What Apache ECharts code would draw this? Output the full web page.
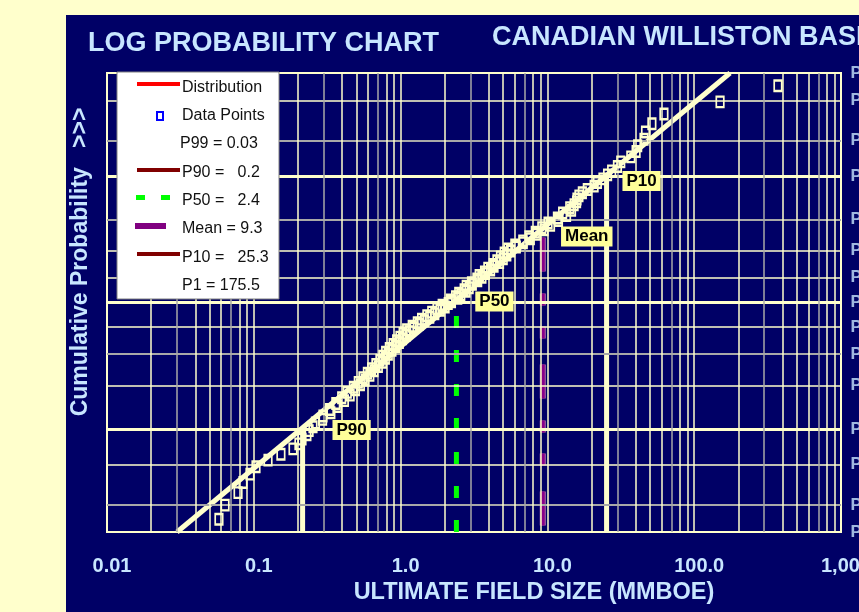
<!DOCTYPE html>
<html>
<head>
<meta charset="utf-8">
<title>Log Probability Chart</title>
<script src="https://cdn.jsdelivr.net/npm/echarts@6.0.0/dist/echarts.min.js"></script>
<style>
  html, body { margin: 0; padding: 0; background: #ffffcc; }
  #panel { position: absolute; left: 66px; top: 15px; width: 793px; height: 597px; background: #000066; }
  #chart { position: absolute; left: 0; top: 0; width: 859px; height: 612px; }
</style>
</head>
<body>
<div id="panel"></div>
<div id="chart"></div>
<script>
// x axis decade labels
const xTickLabels = ['0.01', '0.1', '1.0', '10.0', '100.0', '1,000'];

// probability grid (exceedance %), labelled on the right
const probLevels = [1, 2, 5, 10, 20, 30, 40, 50, 60, 70, 80, 90, 95, 98, 99];
const probLabels = ['P1', 'P2', 'P5', 'P10', 'P20', 'P30', 'P40', 'P50', 'P60', 'P70', 'P80', 'P90', 'P95', 'P98', 'P99'];

// summary statistics (MMBOE)
const p99Value = 0.03;
const p90Value = 0.215;
const p50Value = 2.4;
const meanValue = 9.3;
const p10Value = 25.3;
const p1Value = 175.5;

// fitted lognormal distribution end points
const distSizes = [p99Value, p1Value];
const distProbs = [99, 1];

// field data points: size (MMBOE) and plotting position (exceedance %)
const pointSizes = [
  372, 150, 62.2, 51.5, 46.6, 45.5, 41.2, 40.2, 37.0, 31.6,
  30.0, 27.4, 25.7, 23.9, 21.9, 20.8, 18.7, 17.3, 16.4, 15.9,
  15.8, 15.2, 14.2, 14.6, 12.7, 13.5, 11.7, 11.9, 10.1, 10.5,
  9.16, 9.48, 8.27, 8.43, 7.48, 7.65, 6.80, 6.85, 6.00, 6.14,
  5.39, 5.61, 5.08, 5.29, 4.79, 5.00, 4.53, 4.72, 4.28, 4.33,
  3.93, 4.10, 3.73, 3.78, 3.43, 3.58, 3.31, 3.35, 3.04, 3.08,
  2.80, 2.93, 2.71, 2.79, 2.49, 2.57, 2.37, 2.45, 2.19, 2.22,
  2.11, 1.92, 2.01, 1.77, 1.86, 1.63, 1.71, 1.51, 1.58, 1.39,
  1.45, 1.30, 1.34, 1.20, 1.23, 1.10, 1.15, 1.04, 1.09, 0.99,
  1.03, 0.94, 0.98, 0.89, 0.925, 0.838, 0.873, 0.791, 0.824, 0.757,
  0.787, 0.723, 0.752, 0.679, 0.705, 0.635, 0.659, 0.594, 0.617, 0.554,
  0.573, 0.515, 0.532, 0.477, 0.492, 0.433, 0.453, 0.397, 0.414, 0.362,
  0.371, 0.328, 0.335, 0.296, 0.294, 0.263, 0.253, 0.238, 0.230, 0.213,
  0.203, 0.185, 0.153, 0.125, 0.1035, 0.0942, 0.0844, 0.0781, 0.0637, 0.0579
];
const pointProbs = [
  1.4, 2.1, 2.8, 3.5, 4.2, 4.9, 5.6, 6.3, 7.0, 7.7,
  8.4, 9.1, 9.8, 10.5, 11.2, 11.9, 12.6, 13.3, 14.0, 14.7,
  15.4, 16.1, 16.8, 17.5, 18.2, 18.9, 19.6, 20.3, 21.0, 21.7,
  22.4, 23.1, 23.8, 24.5, 25.2, 25.9, 26.6, 27.3, 28.0, 28.7,
  29.4, 30.1, 30.8, 31.5, 32.2, 32.9, 33.6, 34.3, 35.0, 35.7,
  36.4, 37.1, 37.8, 38.5, 39.2, 39.9, 40.6, 41.3, 42.0, 42.7,
  43.4, 44.1, 44.8, 45.5, 46.2, 46.9, 47.6, 48.3, 49.0, 49.7,
  50.4, 51.1, 51.8, 52.5, 53.2, 53.9, 54.6, 55.3, 56.0, 56.7,
  57.4, 58.1, 58.8, 59.5, 60.2, 60.9, 61.6, 62.3, 63.0, 63.7,
  64.4, 65.1, 65.8, 66.5, 67.2, 67.9, 68.6, 69.3, 70.0, 70.7,
  71.4, 72.1, 72.8, 73.5, 74.2, 74.9, 75.6, 76.3, 77.0, 77.7,
  78.4, 79.1, 79.8, 80.5, 81.2, 81.9, 82.6, 83.3, 84.0, 84.7,
  85.4, 86.1, 86.8, 87.5, 88.2, 88.9, 89.6, 90.3, 91.0, 91.7,
  92.4, 93.1, 93.8, 94.5, 95.2, 95.9, 96.6, 97.3, 98.0, 98.6
];

(function () {
  const FONT = '"Liberation Sans", Arial, Helvetica, sans-serif';
  const PALE = '#ffffcc';
  const GREY = '#a8a8a8';
  const LIGHT_BLUE = '#c8e6ff';

  // inverse of the standard normal cdf (Acklam)
  const normInv = p => {
    const a = [-3.969683028665376e+01, 2.209460984245205e+02, -2.759285104469687e+02, 1.383577518672690e+02, -3.066479806614716e+01, 2.506628277459239e+00];
    const b = [-5.447609879822406e+01, 1.615858368580409e+02, -1.556989798598866e+02, 6.680131188771972e+01, -1.328068155833025e+01];
    const c = [-7.784894002430293e-03, -3.223964580411365e-01, -2.400758277161838e+00, -2.549732539343734e+00, 4.374664141464968e+00, 2.938163982698783e+00];
    const d = [7.784695709041462e-03, 3.224671290700398e-01, 2.445134137142996e+00, 3.754408661907416e+00];
    const pl = 0.02425;
    let q, r;
    if (p < pl) {
      q = Math.sqrt(-2 * Math.log(p));
      return (((((c[0] * q + c[1]) * q + c[2]) * q + c[3]) * q + c[4]) * q + c[5]) / ((((d[0] * q + d[1]) * q + d[2]) * q + d[3]) * q + 1);
    }
    if (p > 1 - pl) {
      q = Math.sqrt(-2 * Math.log(1 - p));
      return -(((((c[0] * q + c[1]) * q + c[2]) * q + c[3]) * q + c[4]) * q + c[5]) / ((((d[0] * q + d[1]) * q + d[2]) * q + d[3]) * q + 1);
    }
    q = p - 0.5;
    r = q * q;
    return (((((a[0] * r + a[1]) * r + a[2]) * r + a[3]) * r + a[4]) * r + a[5]) * q / (((((b[0] * r + b[1]) * r + b[2]) * r + b[3]) * r + b[4]) * r + 1);
  };
  // exceedance % -> normal score (small exceedance at the top)
  const toZ = pct => normInv(1 - pct / 100);

  const zTop = toZ(1);
  const zBottom = toZ(99);

  // z where the fitted line crosses a given size
  const zOnDist = v => {
    const l0 = Math.log10(distSizes[0]), l1 = Math.log10(distSizes[1]);
    const z0 = toZ(distProbs[0]), z1 = toZ(distProbs[1]);
    return z0 + (Math.log10(v) - l0) / (l1 - l0) * (z1 - z0);
  };

  // grid lines
  const brightLevels = [1, 10, 50, 90, 99];
  const greyLevels = [5, 20, 70, 98];
  const hLines = probLevels.map((p, i) => {
    let lineStyle = { color: PALE, width: 1.5, type: 'solid' };
    if (brightLevels.includes(p)) lineStyle = { color: PALE, width: 3, type: 'solid' };
    else if (greyLevels.includes(p)) lineStyle = { color: GREY, width: 2, type: 'solid' };
    return { yAxis: toZ(p), lineStyle };
  });
  const vLines = [];
  [0.01, 0.1, 1, 10, 100].forEach(dec => {
    for (let m = 1; m <= 9; m++) {
      if (dec === 0.01 && m === 1) continue;
      const v = +(dec * m).toPrecision(3);
      const grey = m === 3 || m === 7;
      vLines.push({ xAxis: v, lineStyle: { color: grey ? GREY : PALE, width: 1.5, type: 'solid' } });
    }
  });

  const labelBox = (name, offset) => ({
    symbol: 'rect',
    symbolSize: 1,
    itemStyle: { color: 'rgba(0,0,0,0)' },
    label: {
      show: true,
      position: 'inside',
      formatter: name,
      offset: offset,
      color: '#000',
      fontFamily: FONT,
      fontWeight: 'bold',
      fontSize: 17,
      backgroundColor: '#ffff99',
      padding: [2, 4, 1, 4]
    }
  });

  const zMean = zOnDist(meanValue);
  const meanDash = [34, 22, 12, 21, 12, 26];
  const titleStyle = { color: LIGHT_BLUE, fontFamily: FONT, fontWeight: 'bold', fontSize: 27 };

  const option = {
    animation: false,
    title: [
      { text: 'LOG PROBABILITY CHART', left: 88, top: 30, padding: 0, textStyle: titleStyle },
      { text: 'CANADIAN WILLISTON BASIN', left: 492, top: 24, padding: 0, textStyle: titleStyle }
    ],
    grid: {
      left: 107, right: 18, top: 73, bottom: 80,
      containLabel: false,
      outerBoundsMode: 'none',
      show: true, borderColor: PALE, borderWidth: 2, backgroundColor: 'transparent'
    },
    xAxis: {
      type: 'log',
      logBase: 10,
      min: 0.01,
      max: 1000,
      axisLine: { show: false },
      axisTick: { show: false },
      splitLine: { show: false },
      axisLabel: {
        color: LIGHT_BLUE,
        fontFamily: FONT,
        fontWeight: 'bold',
        fontSize: 20,
        margin: 24,
        padding: [0, 0, 0, 10],
        showMinLabel: true,
        showMaxLabel: true,
        hideOverlap: false,
        formatter: v => xTickLabels[Math.round(Math.log10(v)) + 2]
      }
    },
    yAxis: {
      type: 'value',
      min: zBottom - 1e-6,
      max: zTop + 1e-6,
      show: false,
      splitLine: { show: false }
    },
    series: [
      {
        name: 'grid',
        type: 'line',
        z: 1,
        data: [[1, 0]],
        symbol: 'none',
        lineStyle: { opacity: 0 },
        silent: true,
        markLine: {
          silent: true,
          symbol: ['none', 'none'],
          label: { show: false },
          data: hLines.concat(vLines)
        }
      },
      {
        name: 'levels',
        type: 'scatter',
        z: 6,
        silent: true,
        clip: false,
        symbolSize: 1,
        itemStyle: { color: 'rgba(0,0,0,0)' },
        label: {
          show: true,
          position: 'right',
          distance: 9,
          formatter: p => probLabels[p.dataIndex],
          color: LIGHT_BLUE,
          fontFamily: FONT,
          fontWeight: 'bold',
          fontSize: 17
        },
        labelLayout: { hideOverlap: false },
        data: probLevels.map(p => [1000, toZ(p)])
      },
      {
        name: 'Distribution',
        type: 'line',
        z: 3,
        symbol: 'none',
        lineStyle: { color: PALE, width: 5 },
        data: distSizes.map((v, i) => [v, toZ(distProbs[i])])
      },
      {
        name: 'P90',
        type: 'line',
        z: 4,
        symbol: 'none',
        lineStyle: { color: PALE, width: 5 },
        data: [[p90Value, zBottom], [p90Value, toZ(90)]],
        markPoint: { data: [Object.assign({ coord: [p90Value, toZ(90)] }, labelBox('P90', [49, 1]))] }
      },
      {
        name: 'P10',
        type: 'line',
        z: 4,
        symbol: 'none',
        lineStyle: { color: PALE, width: 5 },
        data: [[p10Value, zBottom], [p10Value, toZ(10)]],
        markPoint: { data: [Object.assign({ coord: [p10Value, toZ(10)] }, labelBox('P10', [35, 5]))] }
      },
      {
        name: 'P50',
        type: 'line',
        z: 4,
        symbol: 'none',
        lineStyle: { color: '#00ff00', width: 5, type: [12, 22] },
        data: [[p50Value, zBottom], [p50Value, toZ(50)]],
        markPoint: { data: [Object.assign({ coord: [p50Value, toZ(50)] }, labelBox('P50', [38, -1]))] }
      },
      {
        name: 'Mean outline',
        type: 'line',
        z: 4,
        symbol: 'none',
        lineStyle: { color: '#b070a8', width: 6, type: meanDash, dashOffset: 118 },
        data: [[meanValue, zMean], [meanValue, zBottom]]
      },
      {
        name: 'Mean',
        type: 'line',
        z: 4,
        symbol: 'none',
        lineStyle: { color: '#880088', width: 4, type: meanDash, dashOffset: 118 },
        data: [[meanValue, zMean], [meanValue, zBottom]],
        markPoint: { data: [Object.assign({ coord: [meanValue, zMean] }, labelBox('Mean', [44, 8]))] }
      },
      {
        name: 'Data Points',
        type: 'scatter',
        z: 5,
        symbol: 'rect',
        symbolSize: [7.5, 10.5],
        itemStyle: { color: 'rgba(0,0,0,0)', borderColor: PALE, borderWidth: 2, opacity: 1 },
        data: pointSizes.map((v, i) => [v, toZ(pointProbs[i])])
      }
    ],
    graphic: [
      // axis titles
      {
        type: 'text', x: 534, y: 593, z: 50,
        style: { text: 'ULTIMATE FIELD SIZE (MMBOE)', font: 'bold 23.5px ' + FONT, fill: LIGHT_BLUE, align: 'center', verticalAlign: 'middle', textAlign: 'center', textVerticalAlign: 'middle' }
      },
      {
        type: 'text', x: 81, y: 262, rotation: Math.PI / 2, z: 50,
        style: { text: 'Cumulative Probability   >>>', font: 'bold 23px ' + FONT, fill: LIGHT_BLUE, align: 'center', verticalAlign: 'middle', textAlign: 'center', textVerticalAlign: 'middle' }
      },
      // legend box
      { type: 'rect', z: 100, shape: { x: 117, y: 72, width: 162, height: 227 }, style: { fill: '#ffffff', stroke: '#808080', lineWidth: 1 } },
      { type: 'line', z: 101, shape: { x1: 137, y1: 84, x2: 180, y2: 84 }, style: { stroke: '#ff0000', lineWidth: 4 } },
      { type: 'rect', z: 101, shape: { x: 157, y: 112, width: 6, height: 8 }, style: { fill: '#ffffff', stroke: '#0000ff', lineWidth: 2 } },
      { type: 'line', z: 101, shape: { x1: 137, y1: 170, x2: 180, y2: 170 }, style: { stroke: '#800000', lineWidth: 4 } },
      { type: 'rect', z: 101, shape: { x: 136, y: 195, width: 9, height: 5 }, style: { fill: '#00ff00' } },
      { type: 'rect', z: 101, shape: { x: 161, y: 195, width: 9, height: 5 }, style: { fill: '#00ff00' } },
      { type: 'rect', z: 101, shape: { x: 135, y: 223, width: 31, height: 6 }, style: { fill: '#800080' } },
      { type: 'line', z: 101, shape: { x1: 137, y1: 254, x2: 180, y2: 254 }, style: { stroke: '#800000', lineWidth: 4 } }
    ].concat([
      ['Distribution', 182, 88],
      ['Data Points', 182, 116],
      ['P99 = ' + p99Value.toFixed(2), 180, 144],
      ['P90 =   ' + p90Value.toFixed(1), 182, 173],
      ['P50 =   ' + p50Value.toFixed(1), 182, 201],
      ['Mean = ' + meanValue.toFixed(1), 182, 229],
      ['P10 =   ' + p10Value.toFixed(1), 182, 258],
      ['P1 = ' + p1Value.toFixed(1), 182, 286]
    ].map(([text, x, y]) => ({
      type: 'text', x, y, z: 102,
      style: { text, font: '16px ' + FONT, fill: '#111111', align: 'left', verticalAlign: 'middle', textAlign: 'left', textVerticalAlign: 'middle' }
    })))
  };

  const chart = echarts.init(document.getElementById('chart'), null, { renderer: 'canvas' });
  chart.setOption(option);
})();
</script>
</body>
</html>
